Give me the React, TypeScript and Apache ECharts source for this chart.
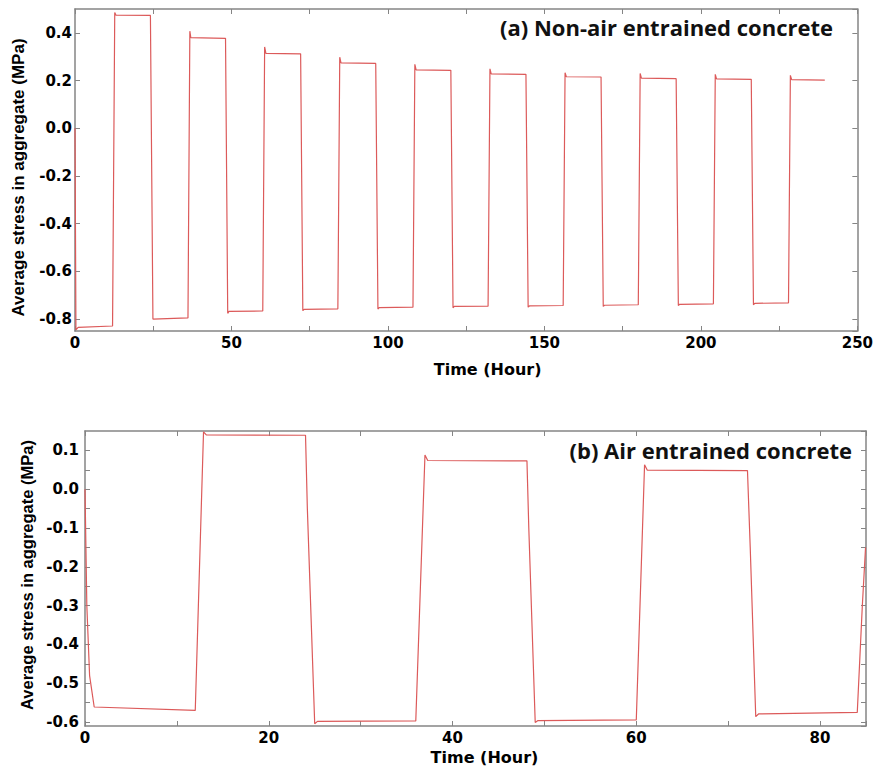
import React, { useEffect, useRef } from "react";
import * as echarts from "echarts";

// (a) Non-air entrained concrete: time (h) and average stress (MPa)
const timeA = [
  0, 0.3, 1.0, 12.0, 12.7, 13.1, 24.1, 24.9, 36.1, 36.7, 37.0, 48.1, 48.8, 49.2, 60.0,
  60.6, 61.0, 72.1, 72.8, 73.2, 84.0, 84.6, 85.0, 96.1, 96.8, 97.2, 108.0, 108.6, 109.0,
  120.1, 120.8, 121.2, 132.0, 132.6, 133.0, 144.1, 144.8, 145.2, 156.0, 156.6, 157.0,
  168.1, 168.8, 169.2, 180.0, 180.6, 181.0, 192.1, 192.8, 193.2, 204.0, 204.6, 205.0,
  216.1, 216.8, 217.2, 228.0, 228.6, 229.0, 239.6,
];
const stressA = [
  0.0, -0.845, -0.835, -0.829, 0.485, 0.474, 0.473, -0.8, -0.795, 0.407, 0.38, 0.377,
  -0.776, -0.768, -0.766, 0.341, 0.314, 0.312, -0.765, -0.759, -0.757, 0.298, 0.274,
  0.272, -0.758, -0.752, -0.75, 0.268, 0.245, 0.243, -0.753, -0.747, -0.746, 0.249,
  0.228, 0.226, -0.75, -0.745, -0.743, 0.233, 0.216, 0.215, -0.747, -0.742, -0.74, 0.23,
  0.21, 0.208, -0.743, -0.738, -0.736, 0.226, 0.207, 0.205, -0.74, -0.734, -0.732, 0.222,
  0.204, 0.202,
];

// (b) Air entrained concrete
const timeB = [
  0, 0.2, 0.5, 1.0, 12.0, 12.9, 13.2, 24.0, 24.2, 25.0, 25.3, 36.0, 37.0, 37.3, 48.1,
  48.3, 49.0, 49.3, 60.0, 60.9, 61.2, 72.1, 72.4, 73.0, 73.3, 84.05, 84.6, 84.95,
];
const stressB = [
  0.0, -0.3, -0.48, -0.561, -0.57, 0.148, 0.14, 0.139, -0.05, -0.604, -0.598, -0.597,
  0.088, 0.074, 0.073, -0.1, -0.601, -0.596, -0.594, 0.063, 0.049, 0.048, -0.15, -0.586,
  -0.579, -0.575, -0.3, -0.15,
];

const xTicksA = { min: 0, max: 250, step: 25, labelEvery: 50 };
const xTicksB = { min: 0, max: 85, step: 10, labelEvery: 20 };
const yRangeA = { min: -0.85, max: 0.5, splitNumber: 7 };
const yRangeB = { min: -0.61, max: 0.15, splitNumber: 15 };

const TITLE_A = "(a) Non-air entrained concrete";
const TITLE_B = "(b) Air entrained concrete";
const X_NAME = "Time (Hour)";
const Y_NAME = "Average stress in aggregate (MPa)";

const AXIS_COLOR = "#858585";
const LINE_COLOR = "#dc5a5a";
const tickFont = { fontFamily: "DejaVu Sans", fontWeight: "bold" as const, fontSize: 15, color: "#000" };

export default function App() {
  const ref = useRef<HTMLDivElement>(null);
  useEffect(() => {
    if (!ref.current) return;
    const chart = echarts.init(ref.current, null, { renderer: "svg" });
    const axisLine = { show: true, onZero: false, lineStyle: { color: AXIS_COLOR, width: 1.5 } };
    const axisTick = { show: true, inside: true, length: 5, lineStyle: { color: AXIS_COLOR, width: 1 } };

    const makeX = (grid: number, cfg: typeof xTicksA, top: boolean, nameGap: number, padLeft: number) => ({
      gridIndex: grid,
      type: "value",
      min: cfg.min,
      max: cfg.max,
      interval: cfg.step,
      position: top ? "top" : "bottom",
      axisLine,
      axisTick,
      splitLine: { show: false },
      axisLabel: top
        ? { show: false }
        : {
            ...tickFont,
            margin: 4,
            formatter: (v: number) => (Math.abs(v % cfg.labelEvery) < 1e-9 ? String(v) : ""),
          },
      ...(top
        ? {}
        : {
            name: X_NAME,
            nameLocation: "middle",
            nameGap,
            nameTextStyle: {
              fontFamily: "DejaVu Sans",
              fontWeight: "bold",
              fontSize: 16,
              color: "#000",
              padding: [0, 0, 0, padLeft],
            },
          }),
    });

    const makeY = (
      grid: number,
      cfg: typeof yRangeA,
      right: boolean,
      labelFmt: (v: number) => string,
      nameGap: number,
      fontSize: number,
      pad: number[],
      margin: number
    ) => ({
      gridIndex: grid,
      type: "value",
      min: cfg.min,
      max: cfg.max,
      splitNumber: cfg.splitNumber,
      position: right ? "right" : "left",
      axisLine,
      axisTick,
      splitLine: { show: false },
      axisLabel: right
        ? { show: false }
        : { ...tickFont, margin, showMinLabel: false, showMaxLabel: false, formatter: labelFmt },
      ...(right
        ? {}
        : {
            name: Y_NAME,
            nameLocation: "middle",
            nameGap,
            nameTextStyle: {
              fontFamily: "Liberation Sans",
              fontWeight: "bold",
              fontSize,
              color: "#000",
              padding: pad,
            },
          }),
    });

    const fmtA = (v: number) => v.toFixed(1);
    const fmtB = (v: number) => (Math.abs(Math.round(v * 100)) % 10 === 0 ? v.toFixed(1) : "");

    const option = {
      animation: false,
      grid: [
        { left: 75, right: 16, top: 9, bottom: 437 },
        { left: 85, right: 10, top: 431, bottom: 42 },
      ],
      xAxis: [
        makeX(0, xTicksA, false, 30, 43),
        makeX(0, xTicksA, true, 0, 0),
        makeX(1, xTicksB, false, 23, 18),
        makeX(1, xTicksB, true, 0, 0),
      ],
      yAxis: [
        makeY(0, yRangeA, false, fmtA, 48, 17, [0, 15, 0, 0], 3),
        makeY(0, yRangeA, true, fmtA, 0, 17, [0, 0, 0, 0], 3),
        makeY(1, yRangeB, false, fmtB, 50, 16.5, [0, 0, 0, 7], 6),
        makeY(1, yRangeB, true, fmtB, 0, 16.5, [0, 0, 0, 0], 6),
      ],
      series: [
        {
          type: "line",
          xAxisIndex: 0,
          yAxisIndex: 0,
          data: timeA.map((t, i) => [t, stressA[i]]),
          showSymbol: false,
          lineStyle: { color: LINE_COLOR, width: 1.2 },
        },
        {
          type: "line",
          xAxisIndex: 2,
          yAxisIndex: 2,
          data: timeB.map((t, i) => [t, stressB[i]]),
          showSymbol: false,
          lineStyle: { color: LINE_COLOR, width: 1.2 },
        },
      ],
      graphic: [
        {
          type: "text",
          x: 833,
          y: 27,
          style: {
            text: TITLE_A,
            font: 'bold 22px "Open Sans"',
            fill: "#111",
            textAlign: "right",
            textVerticalAlign: "middle",
          },
        },
        {
          type: "text",
          x: 852,
          y: 450,
          style: {
            text: TITLE_B,
            font: 'bold 22px "Open Sans"',
            fill: "#111",
            textAlign: "right",
            textVerticalAlign: "middle",
          },
        },
      ],
    };
    chart.setOption(option as any);
    return () => chart.dispose();
  }, []);
  return (
    <div
      ref={ref}
      style={{ position: "fixed", left: 0, top: 0, width: 876, height: 768, background: "#fff" }}
    />
  );
}
